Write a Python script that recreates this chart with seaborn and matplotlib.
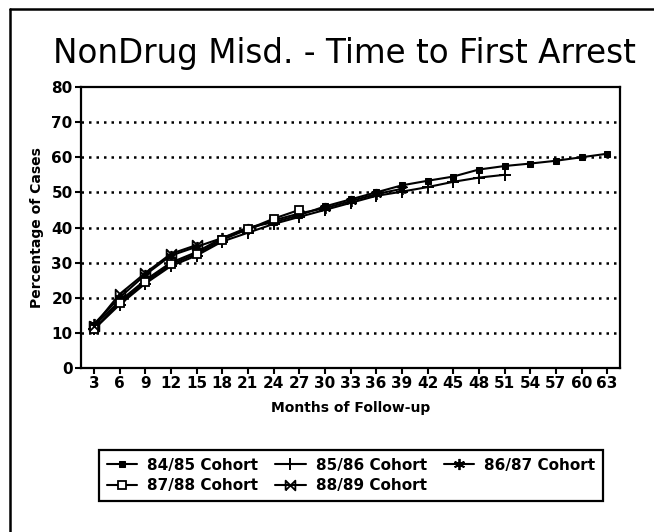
import numpy as np
import pandas as pd
import matplotlib
matplotlib.use("Agg")
import matplotlib.pyplot as plt
from matplotlib.lines import Line2D
import seaborn as sns

# ── data ──────────────────────────────────────────────────────────────────────
months = [3, 6, 9, 12, 15, 18, 21, 24, 27, 30, 33, 36, 39, 42, 45, 48, 51,
          54, 57, 60, 63]

cohort_8485 = [12, 19, 25, 30, 33, 37, 40, 41.5, 43.5, 46, 48, 50, 52, 53.3,
               54.5, 56.5, 57.5, 58.2, 59, 60, 61]
cohort_8586 = [11, 18, 24, 29, 32, 36, 38.5, 41, 43, 45, 47, 49, 50.2, 51.5,
               53, 54.2, 55]
cohort_8687 = [12.5, 20, 26.5, 32, 34.5, 37, 39.5, 42, 44, 45.5, 47.5, 49.5, 51]
cohort_8788 = [11, 18.5, 24.5, 29.5, 32.5, 36.5, 39.5, 42.5, 45]
cohort_8889 = [12, 21, 27, 32.5, 35]

cohort_names = ["84/85 Cohort", "85/86 Cohort", "86/87 Cohort",
                "87/88 Cohort", "88/89 Cohort"]
cohort_values = [cohort_8485, cohort_8586, cohort_8687, cohort_8788, cohort_8889]

y_ticks = [0, 10, 20, 30, 40, 50, 60, 70, 80]

# ── styling ──────────────────────────────────────────────────────────────────
sns.set_theme(style="white")
plt.rcParams["font.family"] = ["DejaVu Sans"]
plt.rcParams.update({"text.color": "black", "axes.labelcolor": "black",
                     "xtick.color": "black", "ytick.color": "black"})

bowtie = [(-1, -1), (1, 1), (1, -1), (-1, 1), (-1, -1)]
marker_styles = [
    dict(marker="s", markersize=5, markerfacecolor="black"),
    dict(marker="+", markersize=8, markeredgewidth=1.4),
    dict(marker=(6, 2, 0), markersize=8, markeredgewidth=1.3),
    dict(marker="s", markersize=5.5, markerfacecolor="white", markeredgewidth=1.3),
    dict(marker=bowtie, markersize=7, markerfacecolor="none", markeredgewidth=1.3),
]

fig = plt.figure(figsize=(6.54, 5.32), dpi=100)
ax = fig.add_axes([81 / 654, 1 - 368 / 532, (620 - 81) / 654, (368 - 87) / 532])

for name, vals, ms in zip(cohort_names, cohort_values, marker_styles):
    df = pd.DataFrame({"Months": months[:len(vals)], "Pct": vals})
    sns.lineplot(data=df, x="Months", y="Pct", ax=ax, color="black",
                 linewidth=1.5, markeredgecolor="black", label=name, **ms)

# dotted horizontal grid
for yv in y_ticks[1:-1]:
    ax.axhline(yv, color="black", lw=1.8, ls=(0, (1, 2)), zorder=0)

ax.set_xlim(1.5, 64.5)
ax.set_ylim(0, 80)
ax.set_xticks(months)
ax.set_xticklabels([str(m) for m in months], fontsize=11, fontweight="bold")
ax.set_yticks(y_ticks)
ax.set_yticklabels([str(v) for v in y_ticks], fontsize=11, fontweight="bold")
ax.tick_params(axis="both", direction="out", length=4, width=1.5,
               color="black", pad=2, bottom=True, left=True)
for sp in ax.spines.values():
    sp.set_color("black")
    sp.set_linewidth(1.6)

ax.set_xlabel("Months of Follow-up", fontsize=10, fontweight="bold")
ax.xaxis.set_label_coords(0.5, -0.142)
ax.xaxis.label.set_va("center")
ax.set_ylabel("Percentage of Cases", fontsize=10, fontweight="bold")
ax.yaxis.set_label_coords(-0.082, 0.5)
ax.yaxis.label.set_va("center")

# legend laid out in rows: 3 on top, 2 below
handles, labels = ax.get_legend_handles_labels()
order = [0, 3, 1, 4, 2]
leg = ax.legend([handles[i] for i in order], [labels[i] for i in order],
                ncol=3, loc="center", bbox_to_anchor=(351 / 654, 1 - 475.5 / 532),
                bbox_transform=fig.transFigure, frameon=True, fancybox=False,
                edgecolor="black", framealpha=1, handlelength=2.0,
                handletextpad=0.65, columnspacing=1.1, borderpad=0.5,
                labelspacing=0.35, prop=dict(size=11, weight="bold"))
leg.get_frame().set_linewidth(1.6)

# title
fig.text(344 / 654, 1 - 63 / 532, "NonDrug Misd. - Time to First Arrest",
         ha="center", va="baseline", fontsize=23.5, color="black")

# outer frame (left edge and top edge of the scanned page box)
fig.add_artist(Line2D([10 / 654, 10 / 654], [0, 1 - 9 / 532],
                      transform=fig.transFigure, color="black", lw=1.8))
fig.add_artist(Line2D([10 / 654, 1], [1 - 9 / 532, 1 - 9 / 532],
                      transform=fig.transFigure, color="black", lw=1.8))

fig.savefig("out.png", dpi=100)
